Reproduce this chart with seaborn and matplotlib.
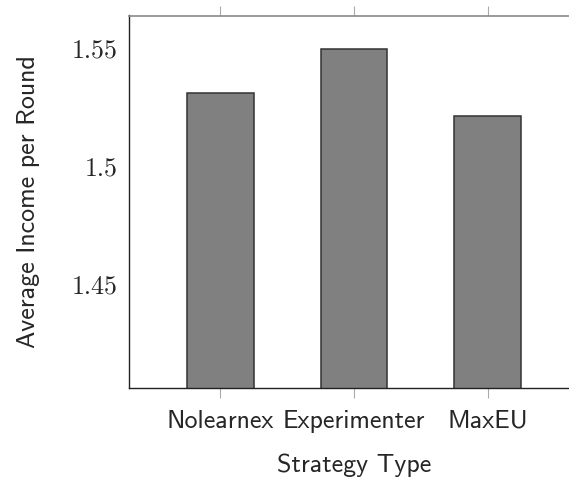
import matplotlib
matplotlib.use("Agg")
import matplotlib.pyplot as plt
import seaborn as sns
import pandas as pd

categories = ["Nolearnex", "Experimenter", "MaxEU"]
values = [1.5309, 1.5496, 1.5213]
yticks = [1.45, 1.5, 1.55]
ytick_labels = ["1.45", "1.5", "1.55"]

sns.set_style("white")
plt.rcParams["font.family"] = ["cmss10", "DejaVu Sans"]
plt.rcParams["axes.unicode_minus"] = False

df = pd.DataFrame({"Strategy Type": categories, "Income": values})

fig = plt.figure(figsize=(5.69, 4.8), dpi=100)
ax = fig.add_axes([129 / 569, 1 - 388 / 480, (579 - 129) / 569, (388 - 15.5) / 480])

sns.barplot(data=df, x="Strategy Type", y="Income", color="#808080", saturation=1,
            width=0.5, edgecolor="#333333", linewidth=1.1, ax=ax)

ax.set_xlim(-0.682, 2.682)
ax.set_ylim(1.4059, 1.5638)
ax.set_yticks(yticks)
ax.set_yticklabels(ytick_labels, fontfamily="cmr10", fontsize=18.7)
ax.set_xticks(range(len(categories)))
ax.set_xticklabels(categories, fontsize=18.7)

ax.tick_params(axis="y", direction="in", length=8.6, width=0.8, color="#999999", pad=8)
ax.tick_params(axis="x", which="both", direction="out", length=7.5, width=0.8,
               color="#aaaaaa", pad=8, top=True, bottom=True)

ax.spines["right"].set_visible(False)
ax.spines["top"].set_color("#8a8a8a")
ax.spines["top"].set_linewidth(1.2)
ax.spines["left"].set_color("#222222")
ax.spines["bottom"].set_color("#222222")
ax.spines["left"].set_linewidth(1.0)
ax.spines["bottom"].set_linewidth(1.0)

ax.set_xlabel("Strategy Type", fontsize=18.7, labelpad=15)
ax.set_ylabel("Average Income per Round", fontsize=18.7, labelpad=23)

fig.savefig("out.png", dpi=100)
